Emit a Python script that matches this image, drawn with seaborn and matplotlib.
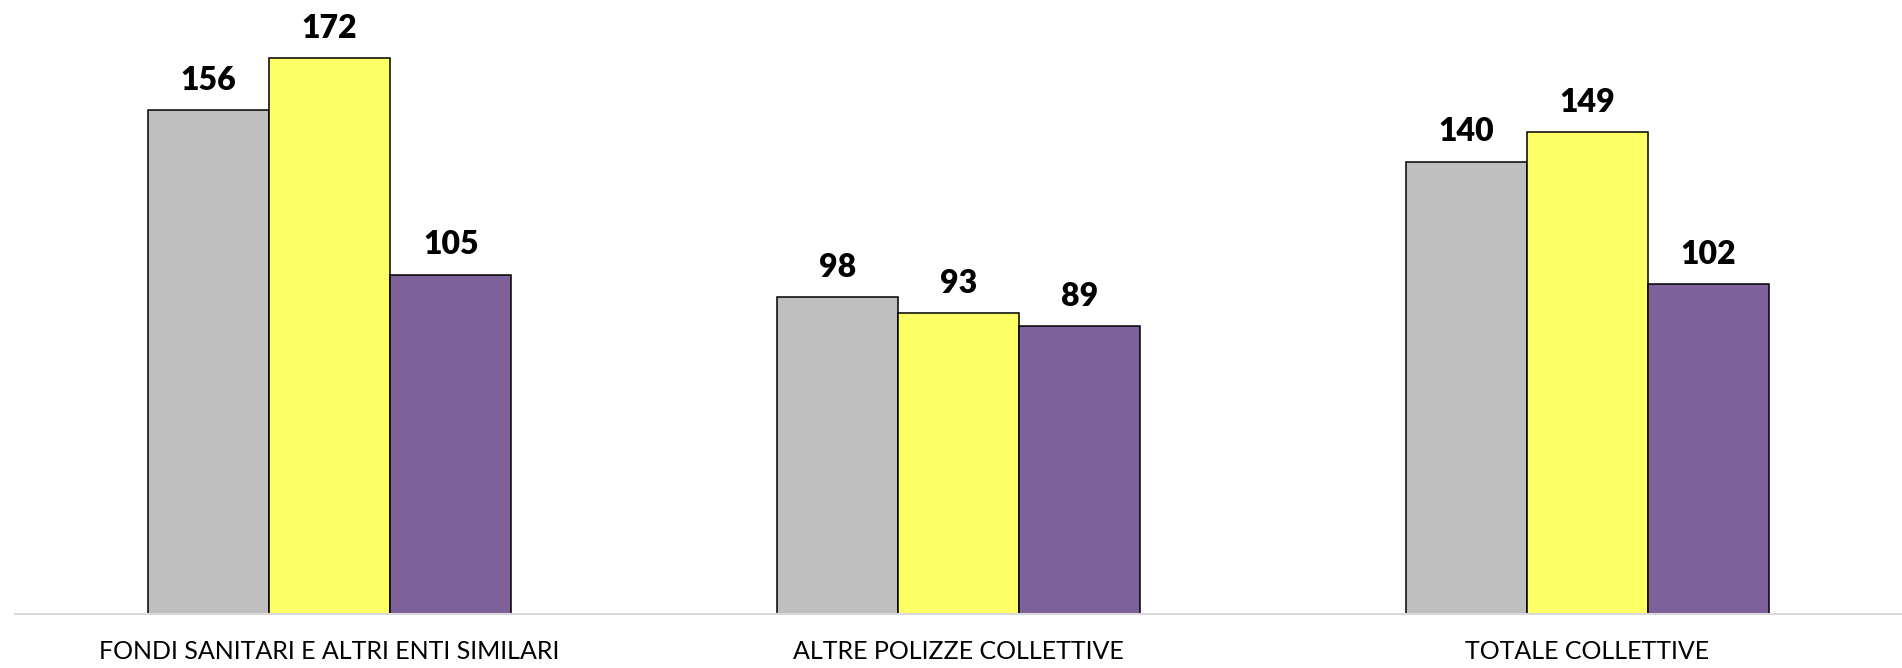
import matplotlib
matplotlib.use("Agg")
import matplotlib.pyplot as plt
import pandas as pd
import seaborn as sns

# valori
categories = ["FONDI SANITARI E ALTRI ENTI SIMILARI", "ALTRE POLIZZE COLLETTIVE", "TOTALE COLLETTIVE"]
series = ["Serie 1", "Serie 2", "Serie 3"]
values_s1 = [156, 98, 140]
values_s2 = [172, 93, 149]
values_s3 = [105, 89, 102]

colors = ["#BFBFBF", "#FFFF66", "#7E619B"]


def main():
    df = pd.DataFrame({
        "categoria": categories * 3,
        "serie": [series[0]] * 3 + [series[1]] * 3 + [series[2]] * 3,
        "valore": values_s1 + values_s2 + values_s3,
    })

    sns.set_theme(style="white")
    plt.rcParams["font.family"] = ["Lato", "DejaVu Sans"]

    fig = plt.figure(figsize=(19.02, 6.68), dpi=100)
    ax = fig.add_axes([0.008, 0.081, 0.992, 0.919])

    sns.barplot(data=df, x="categoria", y="valore", hue="serie",
                palette=colors, saturation=1, width=0.578, gap=0,
                legend=False, edgecolor="black", linewidth=1.1, ax=ax)

    ax.set_xlim(-0.5, 2.5)
    ax.set_ylim(0, 190)
    ax.set_xlabel("")
    ax.set_ylabel("")
    ax.set_yticks([])
    for s in ["top", "left", "right"]:
        ax.spines[s].set_visible(False)
    ax.spines["bottom"].set_color("#D9D9D9")
    ax.spines["bottom"].set_linewidth(1.5)
    ax.tick_params(axis="x", length=0, pad=19, labelsize=18, colors="black")

    for cont in ax.containers:
        for bar in cont:
            h = bar.get_height()
            ax.annotate(f"{h:.0f}", (bar.get_x() + bar.get_width() / 2, h),
                        xytext=(0, 14.5), textcoords="offset points",
                        ha="center", va="baseline", fontsize=23,
                        fontweight="heavy", color="black")

    fig.savefig("out.png", dpi=100)


if __name__ == "__main__":
    main()
